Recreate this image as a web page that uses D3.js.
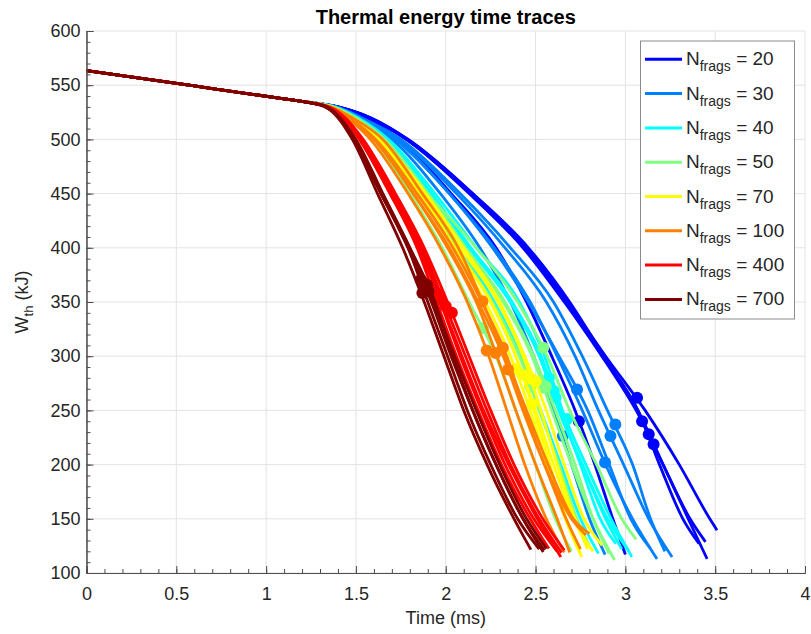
<!DOCTYPE html>
<html>
<head>
<meta charset="utf-8">
<script src="https://cdn.jsdelivr.net/npm/d3@7"></script>
<style>
  body { margin: 0; background: #fff; }
  text { font-family: "Liberation Sans", Arial, Helvetica, sans-serif; fill: #262626; }
</style>
</head>
<body>
<svg id="chart" width="811" height="634"></svg>
<script>
// number of fragments per group, and the jet colours MATLAB gave them
const groupN = [20, 30, 40, 50, 70, 100, 400, 700]
const groupColors = ['#0000ff', '#0080ff', '#00ffff', '#80ff80', '#ffff00', '#ff8000', '#ff0000', '#800000']

// shared start of every trace (ms, kJ)
const startT = [0, 0.6, 1.1, 1.2]
const startW = [563.5, 549.3, 537.4, 535]

// W levels (kJ) at which the crossing time of each trace was read
const levelW = [530, 520, 500, 450, 400, 350, 300, 250, 200, 150]

// crossing times (ms), one row per trace, grouped like groupN
const levelTimes = [
  [[1.40, 1.58, 1.79, 2.15, 2.45, 2.68, 2.89, 3.11, 3.30, 3.47],
   [1.40, 1.58, 1.78, 2.14, 2.44, 2.67, 2.87, 3.06, 3.21, 3.36],
   [1.40, 1.58, 1.79, 2.15, 2.46, 2.69, 2.88, 3.07, 3.21, 3.35],
   [1.40, 1.57, 1.78, 2.13, 2.43, 2.66, 2.87, 3.07, 3.19, 3.32],
   [1.39, 1.55, 1.74, 2.03, 2.28, 2.45, 2.59, 2.72, 2.83, 2.93]],
  [[1.38, 1.51, 1.70, 1.97, 2.19, 2.36, 2.49, 2.60, 2.70, 2.80],
   [1.38, 1.52, 1.72, 2.02, 2.26, 2.46, 2.63, 2.79, 2.91, 3.03],
   [1.38, 1.52, 1.72, 2.02, 2.27, 2.47, 2.62, 2.76, 2.89, 3.04],
   [1.39, 1.53, 1.74, 2.06, 2.33, 2.56, 2.72, 2.85, 2.99, 3.13],
   [1.39, 1.53, 1.75, 2.08, 2.36, 2.60, 2.76, 2.90, 3.04, 3.14]],
  [[1.37, 1.50, 1.66, 1.89, 2.08, 2.27, 2.42, 2.53, 2.64, 2.75],
   [1.37, 1.50, 1.67, 1.92, 2.14, 2.37, 2.53, 2.64, 2.75, 2.86],
   [1.37, 1.50, 1.67, 1.92, 2.13, 2.36, 2.53, 2.63, 2.76, 2.89],
   [1.37, 1.50, 1.67, 1.92, 2.13, 2.36, 2.52, 2.63, 2.76, 2.90],
   [1.38, 1.51, 1.68, 1.94, 2.17, 2.41, 2.55, 2.65, 2.78, 2.92]],
  [[1.36, 1.47, 1.60, 1.80, 1.98, 2.13, 2.28, 2.39, 2.50, 2.61],
   [1.37, 1.50, 1.66, 1.90, 2.17, 2.40, 2.565, 2.69, 2.84, 2.98],
   [1.37, 1.49, 1.66, 1.90, 2.11, 2.32, 2.48, 2.59, 2.70, 2.82],
   [1.37, 1.49, 1.64, 1.87, 2.06, 2.26, 2.41, 2.52, 2.63, 2.73],
   [1.37, 1.49, 1.66, 1.90, 2.11, 2.33, 2.49, 2.61, 2.72, 2.82]],
  [[1.36, 1.47, 1.62, 1.85, 2.04, 2.22, 2.36, 2.47, 2.565, 2.665],
   [1.36, 1.48, 1.64, 1.88, 2.08, 2.29, 2.43, 2.53, 2.62, 2.72],
   [1.36, 1.48, 1.64, 1.89, 2.10, 2.30, 2.44, 2.56, 2.66, 2.77],
   [1.36, 1.47, 1.63, 1.86, 2.05, 2.25, 2.39, 2.49, 2.58, 2.67],
   [1.36, 1.47, 1.63, 1.86, 2.05, 2.25, 2.39, 2.50, 2.60, 2.71]],
  [[1.35, 1.45, 1.58, 1.79, 1.97, 2.12, 2.24, 2.34, 2.44, 2.56],
   [1.35, 1.46, 1.60, 1.82, 2.01, 2.17, 2.285, 2.39, 2.50, 2.62],
   [1.35, 1.46, 1.61, 1.84, 2.04, 2.20, 2.34, 2.44, 2.55, 2.67],
   [1.35, 1.46, 1.60, 1.82, 2.02, 2.18, 2.32, 2.43, 2.55, 2.70],
   [1.36, 1.48, 1.65, 1.87, 2.07, 2.205, 2.33, 2.45, 2.57, 2.71]],
  [[1.34, 1.43, 1.52, 1.69, 1.84, 1.95, 2.06, 2.18, 2.31, 2.47],
   [1.34, 1.43, 1.52, 1.69, 1.85, 1.97, 2.08, 2.20, 2.33, 2.49],
   [1.34, 1.43, 1.53, 1.70, 1.86, 1.975, 2.09, 2.21, 2.35, 2.51],
   [1.34, 1.43, 1.53, 1.71, 1.87, 1.99, 2.11, 2.23, 2.36, 2.52],
   [1.35, 1.44, 1.54, 1.72, 1.88, 2.01, 2.13, 2.25, 2.38, 2.54]],
  [[1.33, 1.41, 1.49, 1.64, 1.79, 1.90, 2.01, 2.12, 2.25, 2.40],
   [1.33, 1.40, 1.48, 1.62, 1.76, 1.88, 1.99, 2.10, 2.23, 2.38],
   [1.33, 1.41, 1.49, 1.64, 1.80, 1.94, 2.04, 2.15, 2.28, 2.43],
   [1.33, 1.41, 1.49, 1.64, 1.79, 1.92, 2.03, 2.15, 2.28, 2.43],
   [1.34, 1.41, 1.50, 1.65, 1.80, 1.93, 2.05, 2.17, 2.30, 2.45]]
]

// last sample of each trace [ms, kJ]
const endPoints = [
  [[3.51, 139.5], [3.446, 128.7], [3.455, 113], [3.41, 127], [3.0, 117]],
  [[2.887, 117], [3.14, 122.5], [3.176, 113], [3.26, 114.8], [3.22, 120]],
  [[2.85, 118], [2.947, 127], [2.98, 122], [3.02, 120], [3.036, 115]],
  [[2.70, 120], [3.06, 131], [2.94, 112], [2.80, 125], [2.91, 118]],
  [[2.757, 114.8], [2.79, 122], [2.87, 125.6], [2.75, 118], [2.82, 120]],
  [[2.66, 119], [2.69, 119], [2.75, 122], [2.78, 135], [2.80, 136.4]],
  [[2.574, 122.5], [2.62, 120], [2.641, 114.8], [2.645, 118.8], [2.66, 121]],
  [[2.52, 122], [2.474, 121.6], [2.543, 119.4], [2.549, 121], [2.561, 122.5]]
]

// marker on each trace [ms, kJ]
const dotPoints = [
  [[3.065, 261.7], [3.093, 240], [3.157, 218.7], [3.13, 227.9], [2.741, 240]],
  [[2.652, 226.4], [2.731, 269.3], [2.887, 202], [2.917, 226.4], [2.944, 237]],
  [[2.463, 280], [2.574, 280], [2.602, 268], [2.611, 262], [2.676, 242]],
  [[2.207, 326], [2.543, 307.7], [2.543, 270.9], [2.47, 272], [2.557, 272]],
  [[2.39, 288], [2.48, 279], [2.50, 277], [2.48, 256], [2.427, 283]],
  [[2.228, 305.2], [2.278, 303], [2.318, 307.7], [2.347, 287.7], [2.204, 350.6]],
  [[1.924, 362], [1.951, 358], [1.97, 352], [2.0, 346], [2.034, 340]],
  [[1.861, 370.6], [1.87, 358.3], [1.895, 366], [1.873, 368], [1.904, 360]]
]

const xTicks = d3.range(0, 4.01, 0.5)
const yTicks = d3.range(100, 601, 50)

const svg = d3.select('#chart')
const plotLeft = 86.5, plotRight = 805, plotTop = 31, plotBottom = 573

const x = d3.scaleLinear().domain([0, 4]).range([plotLeft, plotRight])
const y = d3.scaleLinear().domain([100, 600]).range([plotBottom, plotTop])

// grid
svg.append('g').selectAll('line').data(xTicks).join('line')
  .attr('x1', (d) => x(d)).attr('x2', (d) => x(d))
  .attr('y1', plotTop).attr('y2', plotBottom)
  .style('stroke', '#e3e3e3').style('stroke-width', 1)
svg.append('g').selectAll('line').data(yTicks).join('line')
  .attr('x1', plotLeft).attr('x2', plotRight)
  .attr('y1', (d) => y(d)).attr('y2', (d) => y(d))
  .style('stroke', '#e3e3e3').style('stroke-width', 1)

// traces
const line = d3.line()
  .x((d) => x(d[0]))
  .y((d) => y(d[1]))
  .curve(d3.curveMonotoneX)

groupN.forEach((n, g) => {
  const traces = levelTimes[g].map((times, i) => {
    const pts = startT.map((t, k) => [t, startW[k]])
    times.forEach((t, k) => pts.push([t, levelW[k]]))
    pts.push(endPoints[g][i])
    return pts
  })
  svg.append('g').selectAll('path').data(traces).join('path')
    .attr('d', line)
    .style('fill', 'none')
    .style('stroke', groupColors[g])
    .style('stroke-width', 2.8)
  svg.append('g').selectAll('circle').data(dotPoints[g]).join('circle')
    .attr('cx', (d) => x(d[0]))
    .attr('cy', (d) => y(d[1]))
    .attr('r', 6)
    .style('fill', groupColors[g])
})

// axes, ticks pointing inward like MATLAB
svg.append('g').attr('transform', `translate(0, ${plotBottom})`)
  .call(d3.axisBottom(x).tickValues(xTicks).tickSize(-7).tickPadding(14).tickFormat(d3.format('')))
svg.append('g').attr('transform', `translate(0, ${plotBottom})`)
  .call(d3.axisBottom(x).tickValues(d3.range(0, 4.001, 0.1)).tickSize(-4).tickFormat(''))
svg.append('g').attr('transform', `translate(${plotLeft}, 0)`)
  .call(d3.axisLeft(y).tickValues(yTicks).tickSize(-7).tickPadding(6))
svg.append('g').attr('transform', `translate(${plotLeft}, 0)`)
  .call(d3.axisLeft(y).tickValues(d3.range(100, 601, 10)).tickSize(-4).tickFormat(''))

svg.selectAll('.domain').style('stroke', '#4d4d4d')
svg.selectAll('.tick line').style('stroke', '#4d4d4d')
svg.selectAll('.tick text').style('font-size', '18px').style('fill', '#262626')
  .style('font-family', '"Liberation Sans", Arial, sans-serif')

// titles
svg.append('text')
  .attr('x', (plotLeft + plotRight) / 2).attr('y', 24)
  .attr('text-anchor', 'middle')
  .style('font-size', '20px').style('font-weight', 'bold').style('fill', '#000')
  .text('Thermal energy time traces')

svg.append('text')
  .attr('x', (plotLeft + plotRight) / 2).attr('y', 624)
  .attr('text-anchor', 'middle')
  .style('font-size', '18px')
  .text('Time (ms)')

const yl = svg.append('text')
  .attr('transform', `translate(28, ${(plotTop + plotBottom) / 2}) rotate(-90)`)
  .attr('text-anchor', 'middle')
  .style('font-size', '18px')
yl.append('tspan').text('W')
yl.append('tspan').attr('dy', 5).style('font-size', '13px').text('th')
yl.append('tspan').attr('dy', -5).text(' (kJ)')

// legend
const lg = svg.append('g')
lg.append('rect')
  .attr('x', 640.5).attr('y', 41).attr('width', 154).attr('height', 278)
  .style('fill', '#fff').style('stroke', '#8c8c8c').style('stroke-width', 1)

const rows = lg.selectAll('g').data(groupN).join('g')
  .attr('transform', (d, i) => `translate(0, ${59.3 + i * 34.3})`)
rows.append('line')
  .attr('x1', 645).attr('x2', 682).attr('y1', 0).attr('y2', 0)
  .style('stroke', (d, i) => groupColors[i]).style('stroke-width', 3)
const lt = rows.append('text').attr('x', 686).attr('y', 6).style('font-size', '19px')
lt.append('tspan').text('N')
lt.append('tspan').attr('dy', 6).style('font-size', '14px').text('frags')
lt.append('tspan').attr('dy', -6).text((d) => ` = ${d}`)
</script>
</body>
</html>
